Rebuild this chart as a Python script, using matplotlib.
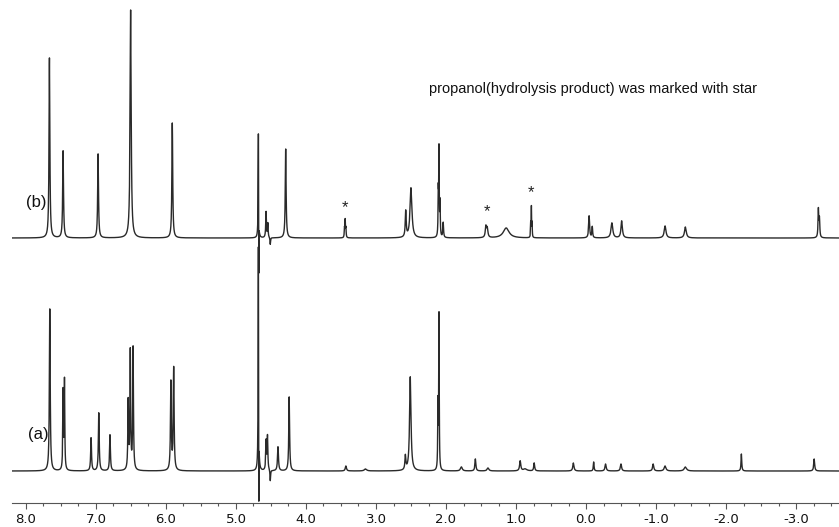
"""
Stacked 1H NMR spectra (a) and (b), propanol peaks starred.
"""
import numpy as np
import matplotlib
matplotlib.use("Agg")
import matplotlib.pyplot as plt
from matplotlib.ticker import MultipleLocator, FuncFormatter

# ---------------------------------------------------------------------------
# Peak tables: shift (ppm), height (arbitrary units), half width (ppm)
# ---------------------------------------------------------------------------
B_SHIFT = [7.665, 7.47, 6.97, 6.505, 5.91, 4.68, 4.674, 4.57, 4.545, 4.51, 4.29,
           3.45, 3.44, 3.43, 2.575, 2.50, 2.11, 2.10, 2.085, 2.04, 1.43, 1.41,
           1.14, 0.79, 0.78, 0.77, -0.045, -0.09, -0.37, -0.51, -1.13, -1.42,
           -3.32, -3.335]
B_HEIGHT = [180, 87, 84, 228, 115, 108, -68, 26, 14, -7, 89,
            9, 17, 9, 26, 50, 42, 86, 33, 15, 11, 9,
            10, 14, 30, 14, 22, 11, 15, 17, 12, 11,
            28, 18]
B_WIDTH = [0.007, 0.007, 0.007, 0.009, 0.007, 0.004, 0.0015, 0.006, 0.005, 0.005, 0.007,
           0.004, 0.004, 0.004, 0.008, 0.016, 0.004, 0.004, 0.004, 0.006, 0.010, 0.010,
           0.05, 0.003, 0.003, 0.003, 0.008, 0.006, 0.015, 0.012, 0.015, 0.015,
           0.006, 0.006]

A_SHIFT = [7.66, 7.47, 7.45, 7.07, 6.96, 6.80, 6.54, 6.51, 6.47, 5.93, 5.89,
           4.68, 4.674, 4.57, 4.55, 4.51, 4.40, 4.24, 3.43, 3.15, 2.58, 2.51,
           2.115, 2.10, 1.78, 1.58, 1.40, 0.94, 0.87, 0.74, 0.18, -0.11, -0.28,
           -0.50, -0.96, -1.13, -1.42, -2.22, -3.26]
A_HEIGHT = [162, 78, 89, 33, 58, 36, 68, 118, 122, 88, 102,
            230, -100, 29, 34, -11, 24, 74, 5, 2, 14, 94,
            65, 155, 4, 12, 3, 10, 2, 8, 8, 9, 7,
            7, 7, 5, 4, 17, 12]
A_WIDTH = [0.007, 0.005, 0.005, 0.007, 0.007, 0.007, 0.006, 0.006, 0.006, 0.007, 0.007,
           0.004, 0.0015, 0.006, 0.006, 0.005, 0.008, 0.007, 0.010, 0.02, 0.008, 0.012,
           0.004, 0.004, 0.015, 0.008, 0.015, 0.010, 0.03, 0.008, 0.010, 0.006, 0.010,
           0.010, 0.010, 0.015, 0.02, 0.006, 0.008]

STAR_SHIFT = [3.44, 1.42, 0.78]
STAR_Y = [295, 291, 310]

B_OFFSET = 265   # vertical offset of trace (b)
A_OFFSET = 32    # vertical offset of trace (a)

NOTE = "propanol(hydrolysis product) was marked with star"


def lorentz_sum(ppm, shifts, heights, widths):
    y = np.zeros_like(ppm)
    for s, h, w in zip(shifts, heights, widths):
        y += h / (1.0 + ((ppm - s) / w) ** 2)
    return y


ppm = np.arange(-3.7, 8.3, 0.0003)
spec_b = lorentz_sum(ppm, B_SHIFT, B_HEIGHT, B_WIDTH) + B_OFFSET
spec_a = lorentz_sum(ppm, A_SHIFT, A_HEIGHT, A_WIDTH) + A_OFFSET

fig = plt.figure(figsize=(8.39, 5.27), dpi=100)
ax = fig.add_axes([12 / 839, 24 / 527, 827 / 839, 503 / 527])

line_kw = dict(color="#2a2a2a", linewidth=1.0)
ax.plot(ppm, spec_b, **line_kw)
ax.plot(ppm, spec_a, **line_kw)

ax.set_xlim(8.2, 8.0 - 813 / 70)
ax.set_ylim(0, 503)

for s, y in zip(STAR_SHIFT, STAR_Y):
    ax.text(s, y, "*", ha="center", va="center", fontsize=12,
            family="Liberation Sans", color="#222222")

ax.text(7.85, 301, "(b)", ha="center", va="center", fontsize=12,
        family="Liberation Sans", color="#111111")
ax.text(7.82, 69, "(a)", ha="center", va="center", fontsize=12,
        family="Liberation Sans", color="#111111")
ax.text(2.243, 414, NOTE, ha="left", va="center", fontsize=10.5,
        family="Liberation Sans", color="#111111")

# bottom ppm scale only
for side in ("top", "left", "right"):
    ax.spines[side].set_visible(False)
ax.spines["bottom"].set_color("#555555")
ax.spines["bottom"].set_linewidth(0.8)
ax.set_yticks([])
ax.xaxis.set_major_locator(MultipleLocator(1.0))
ax.xaxis.set_minor_locator(MultipleLocator(0.25))
ax.xaxis.set_major_formatter(FuncFormatter(lambda v, _: f"{v:.1f}".replace("-0.0", "0.0")))
ax.tick_params(axis="x", which="major", direction="out", length=4, width=0.8,
               color="#555555", labelsize=9.5, pad=3, labelcolor="#111111")
ax.tick_params(axis="x", which="minor", direction="out", length=2.5, width=0.8,
               color="#555555")
for lbl in ax.get_xticklabels():
    lbl.set_family("DejaVu Sans")

fig.savefig("out.png", dpi=100)
